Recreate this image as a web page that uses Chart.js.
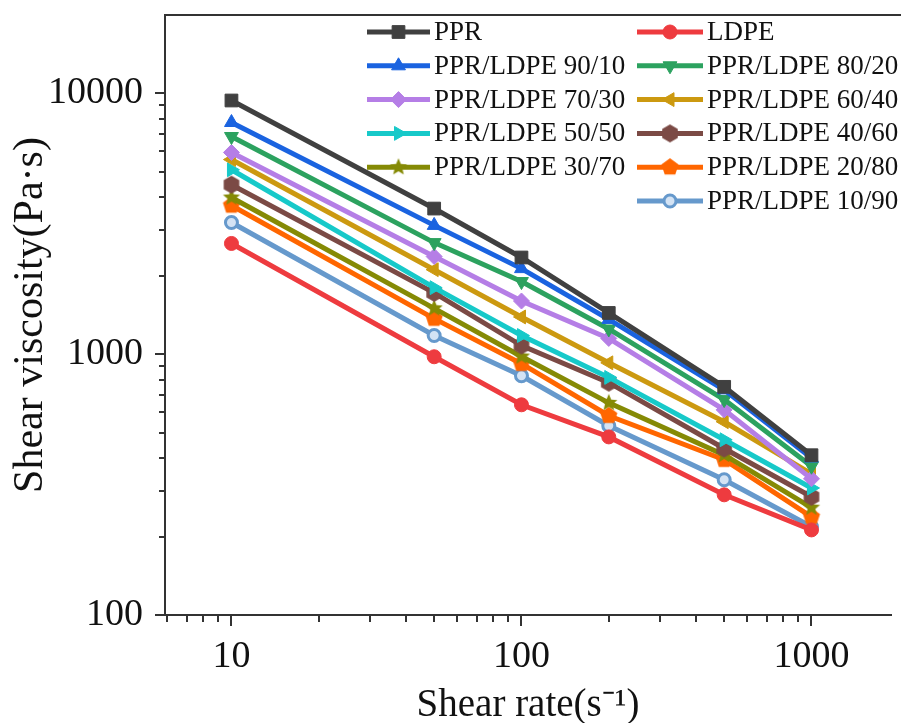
<!DOCTYPE html>
<html>
<head>
<meta charset="utf-8">
<script src="https://cdn.jsdelivr.net/npm/chart.js@4.4.0/dist/chart.umd.min.js"></script>
<style>
  html, body { margin: 0; padding: 0; background: #fff; overflow: hidden; }
  #wrap { width: 901px; height: 723px; }
  canvas { display: block; }
</style>
</head>
<body>
<div id="wrap"><canvas id="viscosityChart" width="901" height="723"></canvas></div>
<script>
// shear rate (1/s) and shear viscosity (Pa·s)
const shearRate = [10, 50, 100, 200, 500, 1000];
const ppr  = [9400, 3620, 2350, 1440, 750, 410];
const ldpe = [2660, 978, 640, 482, 289, 212];
const b90  = [7740, 3120, 2130, 1360, 730, 400];
const b80  = [6840, 2680, 1900, 1250, 670, 372];
const b70  = [5940, 2370, 1600, 1150, 612, 333];
const b60  = [5580, 2110, 1390, 927, 551, 348];
const b50  = [5100, 1800, 1180, 815, 470, 307];
const b40  = [4470, 1720, 1080, 778, 435, 284];
const b30  = [3990, 1500, 980, 651, 411, 258];
const b20  = [3720, 1370, 920, 581, 394, 238];
const b10  = [3200, 1180, 827, 532, 330, 218];

const xMajor = [10, 100, 1000];
const yMajor = [100, 1000, 10000];

const xMin = 5.9, xMax = 1880;
const yMin = 100, yMax = 20000;

const axisColor = '#333333';
const serif = '"Liberation Serif", "Times New Roman", serif';

// minor log ticks
const xMinor = [];
const yMinor = [];
[1, 10, 100, 1000].forEach(d => { for (let k = 2; k <= 9; k++) { const v = k * d; if (v > xMin && v < xMax) xMinor.push(v); } });
[100, 1000, 10000].forEach(d => { for (let k = 2; k <= 9; k++) { const v = k * d; if (v > yMin && v < yMax) yMinor.push(v); } });

// filled polygon / star markers
function shapeCanvas(color, sides, star) {
  const size = 20;
  const c = document.createElement('canvas');
  c.width = size; c.height = size;
  const g = c.getContext('2d');
  const r = size / 2 - 1;
  const n = star ? sides * 2 : sides;
  g.beginPath();
  for (let i = 0; i < n; i++) {
    const rad = (star && i % 2) ? r * 0.45 : r;
    const a = -Math.PI / 2 + i * 2 * Math.PI / n;
    const px = size / 2 + rad * Math.cos(a);
    const py = size / 2 + rad * Math.sin(a);
    if (i === 0) g.moveTo(px, py); else g.lineTo(px, py);
  }
  g.closePath();
  g.fillStyle = color;
  g.fill();
  return c;
}

function series(label, values, color, style, rotation, fill, radius) {
  return {
    label: label,
    data: shearRate.map((x, i) => ({ x: x, y: values[i] })),
    borderColor: color,
    backgroundColor: fill || color,
    pointBackgroundColor: fill || color,
    pointBorderColor: color,
    pointBorderWidth: fill ? 3 : 1,
    borderWidth: 5,
    pointStyle: style,
    pointRotation: rotation || 0,
    pointRadius: radius || 8,
    tension: 0
  };
}

const datasets = [
  series('PPR', ppr, '#404040', 'rect', 0, null, 9),
  series('LDPE', ldpe, '#ee3b3f', 'circle', 0, null, 7),
  series('PPR/LDPE 90/10', b90, '#1a63e0', 'triangle'),
  series('PPR/LDPE 80/20', b80, '#2ca25f', 'triangle', 180),
  series('PPR/LDPE 70/30', b70, '#b57ee6', 'rectRot'),
  series('PPR/LDPE 60/40', b60, '#cc9910', 'triangle', -90),
  series('PPR/LDPE 50/50', b50, '#17c9c9', 'triangle', 90),
  series('PPR/LDPE 40/60', b40, '#7b4a45', shapeCanvas('#7b4a45', 6, false)),
  series('PPR/LDPE 30/70', b30, '#858a05', shapeCanvas('#858a05', 5, true)),
  series('PPR/LDPE 20/80', b20, '#ff6600', shapeCanvas('#ff6600', 5, false)),
  series('PPR/LDPE 10/90', b10, '#6699cc', 'circle', 0, '#d4e3f4', 6)
];

const frameAndMinor = {
  id: 'frameAndMinor',
  afterDraw(chart) {
    const ctx = chart.ctx;
    const xs = chart.scales.x, ys = chart.scales.y;
    const area = chart.chartArea;
    ctx.save();
    ctx.strokeStyle = axisColor;
    ctx.lineWidth = 2;
    ctx.beginPath();
    xMinor.forEach(v => {
      const p = Math.round(xs.getPixelForValue(v));
      ctx.moveTo(p, area.bottom); ctx.lineTo(p, area.bottom + 7);
    });
    yMinor.forEach(v => {
      const p = Math.round(ys.getPixelForValue(v));
      ctx.moveTo(area.left, p); ctx.lineTo(area.left - 6, p);
    });
    ctx.moveTo(area.left - 1, area.top); ctx.lineTo(chart.width, area.top);
    ctx.stroke();
    ctx.restore();
  }
};

const boxLegend = {
  id: 'boxLegend',
  afterDraw(chart) {
    const ctx = chart.ctx;
    const n = chart.data.datasets.length;
    const cols = [{ x0: 367, x1: 430, tx: 434 }, { x0: 637, x1: 703, tx: 707 }];
    ctx.save();
    ctx.font = '27px ' + serif;
    ctx.textBaseline = 'middle';
    chart.data.datasets.forEach((ds, i) => {
      let col = i % 2, row = Math.floor(i / 2);
      if (i === n - 1 && n % 2 === 1) { col = 1; }
      const c = cols[col];
      const y = 32 + row * 33.8;
      ctx.strokeStyle = ds.borderColor;
      ctx.lineWidth = 5;
      ctx.beginPath(); ctx.moveTo(c.x0, y); ctx.lineTo(c.x1, y); ctx.stroke();
      ctx.fillStyle = ds.pointBackgroundColor;
      ctx.strokeStyle = ds.pointBorderColor;
      ctx.lineWidth = ds.pointBorderWidth;
      Chart.helpers.drawPoint(ctx, {
        pointStyle: ds.pointStyle, rotation: ds.pointRotation,
        radius: ds.pointRadius, borderWidth: ds.pointBorderWidth
      }, (c.x0 + c.x1) / 2, y);
      ctx.fillStyle = '#111';
      ctx.fillText(ds.label, c.tx, y + 1);
    });
    ctx.restore();
  }
};

function noPad(s) {
  s.paddingTop = 0; s.paddingBottom = 0; s.paddingLeft = 0; s.paddingRight = 0;
}

document.addEventListener('DOMContentLoaded', function () {
  const ctx = document.getElementById('viscosityChart').getContext('2d');

  new Chart(ctx, {
    type: 'line',
    data: { datasets: datasets },
    plugins: [frameAndMinor, boxLegend],
    options: {
      responsive: false,
      animation: false,
      layout: { padding: { top: 15, right: 0, left: 0, bottom: 0 } },
      plugins: {
        legend: { display: false },
        tooltip: { enabled: false }
      },
      scales: {
        x: {
          type: 'logarithmic',
          min: xMin,
          max: xMax,
          afterBuildTicks: s => { s.ticks = xMajor.map(v => ({ value: v })); },
          afterFit: s => { s.height = 108; noPad(s); },
          grid: { drawOnChartArea: false, drawTicks: true, tickLength: 11, color: axisColor, lineWidth: 2 },
          border: { display: true, color: axisColor, width: 2 },
          ticks: {
            autoSkip: false, maxRotation: 0, padding: 8, color: '#111',
            font: { family: serif, size: 38 },
            callback: v => String(v)
          },
          title: {
            display: true, text: 'Shear rate(s\u207B\u00B9)', color: '#111',
            font: { family: serif, size: 39 }, padding: { top: 6, bottom: -6 }
          }
        },
        y: {
          type: 'logarithmic',
          min: yMin,
          max: yMax,
          afterBuildTicks: s => { s.ticks = yMajor.map(v => ({ value: v })); },
          afterFit: s => { s.width = 165; noPad(s); },
          grid: { drawOnChartArea: false, drawTicks: true, tickLength: 10, color: axisColor, lineWidth: 2 },
          border: { display: true, color: axisColor, width: 2 },
          ticks: {
            autoSkip: false, padding: 12, color: '#111',
            font: { family: serif, size: 38 },
            callback: v => String(v)
          },
          title: {
            display: true, text: 'Shear viscosity(Pa\u00B7s)', color: '#111',
            font: { family: serif, size: 42 }, padding: { top: 6, bottom: 0 }
          }
        }
      }
    }
  });
});
</script>
</body>
</html>
